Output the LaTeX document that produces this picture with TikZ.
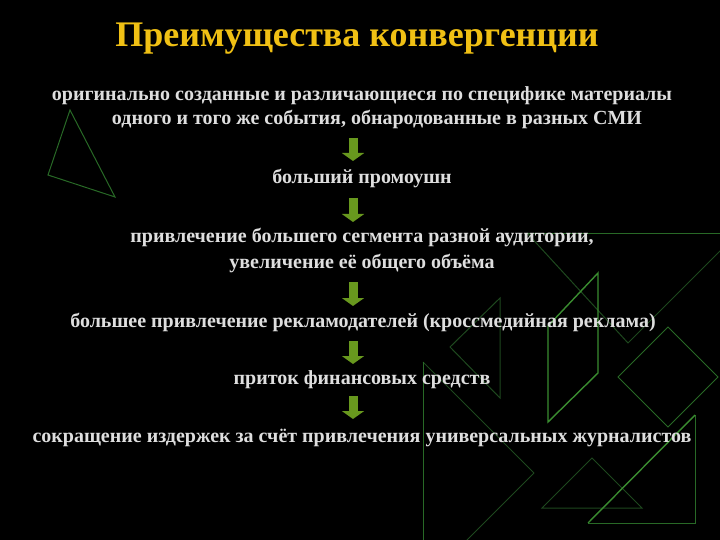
\documentclass[tikz,border=0pt]{standalone}
\usepackage{fontspec}
\setmainfont{Liberation Serif}
\usetikzlibrary{arrows.meta}
\definecolor{bgblack}{RGB}{0,0,0}
\definecolor{titlegold}{RGB}{240,192,20}
\definecolor{txtgray}{RGB}{222,222,222}
\definecolor{arrowgreen}{RGB}{104,152,30}
\definecolor{brightgreen}{RGB}{58,140,48}
\definecolor{midgreen}{RGB}{40,105,38}
\definecolor{dimgreen}{RGB}{30,72,30}
\tikzset{
  bodytext/.style={anchor=base, text=txtgray, inner sep=0pt,
    font=\fontsize{20}{24}\selectfont\bfseries},
  titletext/.style={anchor=base, text=titlegold, inner sep=0pt,
    font=\fontsize{36}{42}\selectfont\bfseries},
  blockarrow/.style={draw=arrowgreen, line width=9pt,
    -{Triangle[width=22pt,length=8pt,fill=arrowgreen]}},
  brightline/.style={draw=brightgreen, line width=1.4pt, line join=miter},
  midline/.style={draw=midgreen, line width=1pt},
  dimline/.style={draw=dimgreen, line width=1pt}
}
\begin{document}
\begin{tikzpicture}[x=1pt,y=-1pt]
  \fill[bgblack] (0,0) rectangle (720,540);
  \useasboundingbox (0,0) rectangle (720,540);
  \begin{scope}
    \clip (0,0) rectangle (720,540);
    % decorative outline shapes
    \draw[midline] (70,110) -- (48,175) -- (115,197) -- cycle;
    \draw[dimline] (527,233) -- (628,343) -- (740,231);
    \draw[midline] (527,233) -- (740,233);
    \draw[brightline] (548,326) -- (598,273) -- (598,373) -- (548,422) -- cycle;
    \draw[dimline] (500,298) -- (450,347) -- (500,398) -- cycle;
    \draw[midline] (668,327) -- (718,377) -- (668,427) -- (618,377) -- cycle;
    \draw[dimline] (534,473) -- (423,362);
    \draw[dimline] (534,473) -- (423,584);
    \draw[midline] (423,362) -- (423,584);
    \draw[dimline] (592,458) -- (642,508) -- (542,508) -- cycle;
    \draw[midline] (695,415) -- (695,523) -- (588,523);
    \draw[brightline] (588,523) -- (695,415);
  \end{scope}

  \node[titletext] (title) at (357,47) {Преимущества конвергенции};

  \node[bodytext] (l1) at (362,101) {оригинально созданные и различающиеся по специфике материалы};
  \node[bodytext] (l2) at (377,125) {одного и того же события, обнародованные в разных СМИ};
  \node[bodytext] (l3) at (362,184) {больший промоушн};
  \node[bodytext] (l4) at (362,242) {привлечение большего сегмента разной аудитории,};
  \node[bodytext] (l5) at (362,268) {увеличение её общего объёма};
  \node[bodytext] (l6) at (363,327) {большее привлечение рекламодателей (кроссмедийная реклама)};
  \node[bodytext] (l7) at (362,384) {приток финансовых средств};
  \node[bodytext] (l8) at (362,442) {сокращение издержек за счёт привлечения универсальных журналистов};

  \coordinate (ax) at (353,0);
  \draw[blockarrow, shorten <=13pt, shorten >=23pt] (l2.base -| ax) -- (l3.base -| ax);
  \draw[blockarrow, shorten <=14pt, shorten >=20pt] (l3.base -| ax) -- (l4.base -| ax);
  \draw[blockarrow, shorten <=14pt, shorten >=21pt] (l5.base -| ax) -- (l6.base -| ax);
  \draw[blockarrow, shorten <=14pt, shorten >=20pt] (l6.base -| ax) -- (l7.base -| ax);
  \draw[blockarrow, shorten <=12pt, shorten >=23pt] (l7.base -| ax) -- (l8.base -| ax);
\end{tikzpicture}
\end{document}
